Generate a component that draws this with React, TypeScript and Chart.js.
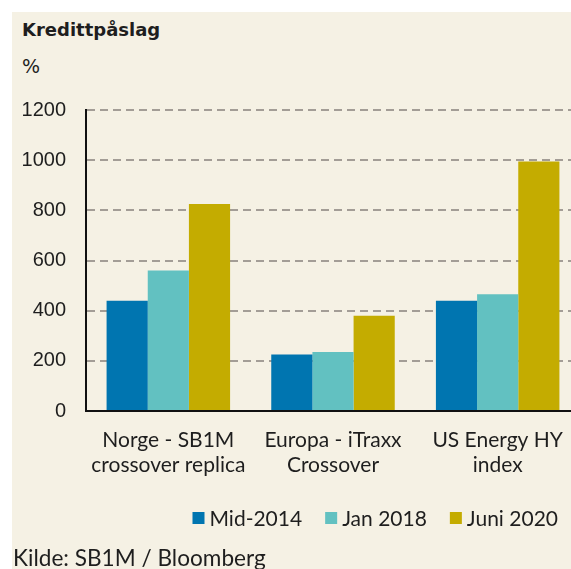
import React, { useEffect, useRef } from "react";
import { Chart, registerables } from "chart.js";

Chart.register(...registerables);

const categories: string[][] = [
  ["Norge - SB1M", "crossover replica"],
  ["Europa - iTraxx", "Crossover"],
  ["US Energy HY", "index"],
];
const seriesNames = ["Mid-2014", "Jan 2018", "Juni 2020"];
const mid2014 = [440, 225, 440];
const jan2018 = [560, 235, 465];
const juni2020 = [825, 380, 995];
const seriesColors = ["#0075b0", "#62c1c1", "#c4ac00"];
const yTicks = [0, 200, 400, 600, 800, 1000, 1200];

const BG = "#f5f1e4";
const TEXT = "#1e1e1e";
const LABEL_FONT = "Lato, 'Noto Sans', sans-serif";
const HEAD_FONT = "'DejaVu Sans', sans-serif";

const legendPlugin = {
  id: "customLegend",
  afterDraw(chart: any, _args: any, opts: any) {
    const ctx = chart.ctx as CanvasRenderingContext2D;
    ctx.save();
    ctx.font = `${opts.size}px ${opts.family}`;
    ctx.textBaseline = "middle";
    ctx.textAlign = "left";
    const items = chart.data.datasets.map((ds: any) => ({
      text: ds.label as string,
      color: ds.backgroundColor as string,
      w: ctx.measureText(ds.label).width,
    }));
    const box = opts.box;
    const total =
      items.reduce((s: number, it: any) => s + box + opts.textGap + it.w, 0) +
      opts.itemGap * (items.length - 1);
    let x = opts.right - total;
    const y = opts.y;
    for (const it of items) {
      ctx.fillStyle = it.color;
      ctx.fillRect(x, y - box / 2, box, box);
      x += box + opts.textGap;
      ctx.fillStyle = opts.color;
      ctx.fillText(it.text, x, y + 1);
      x += it.w + opts.itemGap;
    }
    ctx.restore();
  },
};

export default function App() {
  const canvasRef = useRef<HTMLCanvasElement | null>(null);

  useEffect(() => {
    document.body.style.overflow = "hidden";
    const canvas = canvasRef.current;
    if (!canvas) return;
    const chart = new Chart(canvas, {
      type: "bar",
      data: {
        labels: categories,
        datasets: [mid2014, jan2018, juni2020].map((d, i) => ({
          label: seriesNames[i],
          data: d,
          backgroundColor: seriesColors[i],
          borderWidth: 0,
          categoryPercentage: 0.75,
          barPercentage: 1,
        })),
      },
      plugins: [legendPlugin],
      options: {
        animation: false,
        responsive: false,
        maintainAspectRatio: false,
        layout: { padding: { top: 98, bottom: 84, left: 0, right: 0 } },
        plugins: {
          title: { display: false },
          tooltip: { enabled: false },
          legend: { display: false },
          customLegend: {
            right: 546,
            y: 506,
            box: 12,
            textGap: 5,
            itemGap: 23,
            size: 21,
            family: LABEL_FONT,
            color: TEXT,
          },
        } as any,
        scales: {
          x: {
            grid: { display: false, drawTicks: false },
            border: { display: true, color: "#111", width: 2 },
            ticks: {
              color: TEXT,
              padding: 16,
              maxRotation: 0,
              font: { family: LABEL_FONT, size: 21, lineHeight: 1.22 },
            },
            afterFit: (scale: any) => {
              scale.height = 74;
            },
          },
          y: {
            min: 0,
            max: 1200,
            afterBuildTicks: (scale: any) => {
              scale.ticks = yTicks.map((v) => ({ value: v }));
            },
            grid: {
              color: (ctx: any) => (ctx.tick && ctx.tick.value === 0 ? "rgba(0,0,0,0)" : "#a39d96"),
              lineWidth: 2,
              drawTicks: false,
            },
            border: { display: true, color: "#111", width: 2, dash: [8, 5] },
            ticks: {
              color: TEXT,
              padding: 20,
              font: { family: "'Liberation Sans', Arial, sans-serif", size: 20 },
              callback: (v: any) => String(v),
            },
            afterFit: (scale: any) => {
              scale.width = 74;
            },
          },
        },
      },
    });
    return () => chart.destroy();
  }, []);

  return (
    <div
      style={{
        position: "fixed",
        left: 12,
        top: 12,
        width: 559,
        height: 557,
        overflow: "hidden",
        background: BG,
      }}
    >
      <div
        style={{
          position: "absolute",
          left: 10,
          top: 8,
          fontFamily: HEAD_FONT,
          fontWeight: 700,
          fontSize: 18,
          lineHeight: "20px",
          color: TEXT,
          whiteSpace: "nowrap",
        }}
      >
        Kredittpåslag
      </div>
      <div
        style={{
          position: "absolute",
          left: 10,
          top: 44,
          fontFamily: HEAD_FONT,
          fontSize: 19,
          lineHeight: "20px",
          color: TEXT,
        }}
      >
        %
      </div>
      <canvas
        ref={canvasRef}
        width={568}
        height={557}
        style={{ position: "absolute", left: 0, top: 0, width: 568, height: 557 }}
      />
      <div
        style={{
          position: "absolute",
          left: 1,
          top: 534,
          fontFamily: LABEL_FONT,
          fontSize: 22.6,
          lineHeight: "24px",
          color: TEXT,
          whiteSpace: "nowrap",
        }}
      >
        Kilde: SB1M / Bloomberg
      </div>
    </div>
  );
}
